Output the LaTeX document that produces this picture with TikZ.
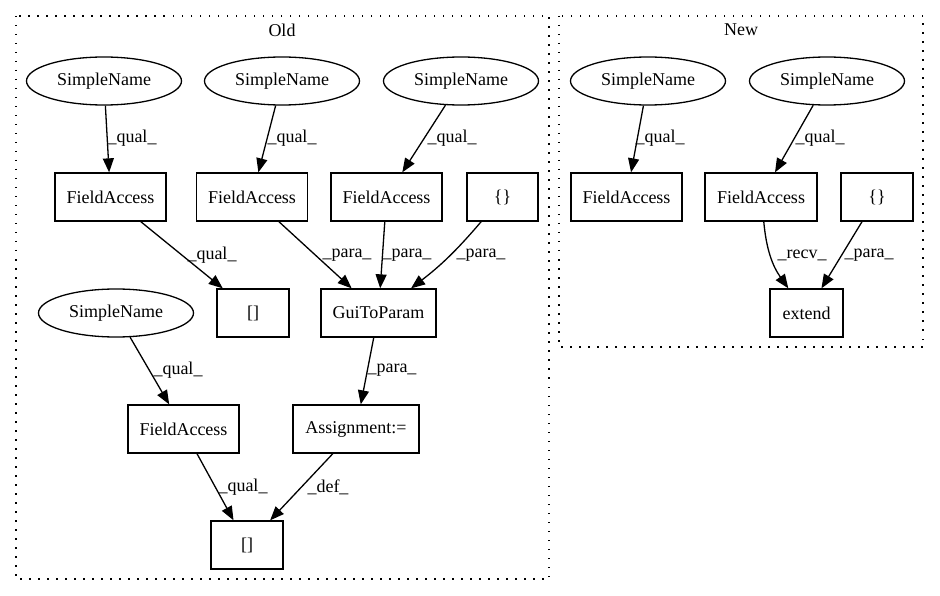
\documentclass[tikz,border=0pt]{standalone}
\usepackage{fontspec}
\setmainfont{Liberation Serif}
\usetikzlibrary{shapes.geometric,arrows.meta}
\begin{document}
\begin{tikzpicture}[x=1pt,y=-1pt,
  every node/.style={font=\fontsize{18}{21}\selectfont},
  box/.style={draw,rectangle,line width=1.3pt,inner sep=0pt,minimum height=48pt},
  ell/.style={draw,ellipse,line width=1.3pt,inner sep=0pt,minimum width=155pt,minimum height=48pt},
  edge/.style={draw,line width=1.3pt,-{Triangle[length=14pt,width=11pt]}},
  lbl/.style={inner sep=0pt},
  cluster/.style={draw,line width=1.3pt,dash pattern=on 1.5pt off 7.5pt}
]
\useasboundingbox (0,0) rectangle (940,596);
% clusters
\draw[cluster] (16,16) rectangle (549,579);
\draw[cluster] (559,16) rectangle (923,347);
\node (oldt) at (282,30) {Old};
\node (newt) at (741,30) {New};
% Old nodes
\node[ell] (sn1) at (104,81) {SimpleName};
\node[ell] (sn2) at (282,81) {SimpleName};
\node[ell] (sn3) at (461,81) {SimpleName};
\node[box,minimum width=111pt] (fa1) at (110.5,197) {FieldAccess};
\node[box,minimum width=111pt] (fa2) at (252,197) {FieldAccess};
\node[box,minimum width=111pt] (fa3) at (386.5,197) {FieldAccess};
\node[box,minimum width=71pt] (br) at (502.5,197) {\{\}};
\node[box,minimum width=72pt] (ix1) at (253,313) {[]};
\node[box,minimum width=115pt] (gui) at (378.5,313) {GuiToParam};
\node[ell] (sn4) at (116,313) {SimpleName};
\node[box,minimum width=111pt] (fa4) at (183.5,429) {FieldAccess};
\node[box,minimum width=126pt] (asg) at (356,429) {Assignment:=};
\node[box,minimum width=72pt] (ix2) at (247,545) {[]};
% New nodes
\node[ell] (nsn1) at (648,81) {SimpleName};
\node[ell] (nsn2) at (827,81) {SimpleName};
\node[box,minimum width=111pt] (nfa1) at (626.5,197) {FieldAccess};
\node[box,minimum width=112pt] (nfa2) at (761,197) {FieldAccess};
\node[box,minimum width=72pt] (nbr) at (877,197) {\{\}};
\node[box,minimum width=73pt] (next) at (806.5,313) {extend};
% Old edges
\draw[edge] (sn1) -- (fa1) node[lbl] at (132,138) {\_qual\_};
\draw[edge] (sn2) -- (fa2) node[lbl] at (292,138) {\_qual\_};
\draw[edge] (sn3) -- (fa3) node[lbl] at (452,138) {\_qual\_};
\draw[edge] (fa1) -- (ix1) node[lbl] at (212,255) {\_qual\_};
\draw[edge] (fa2) -- (gui) node[lbl] at (347,255) {\_para\_};
\draw[edge] (fa3) -- (gui) node[lbl] at (407,255) {\_para\_};
\draw[edge] (br) to[bend left=6] (gui);
\node[lbl] (l7) at (481,255) {\_para\_};
\draw[edge] (sn4) -- (fa4) node[lbl] at (178,370) {\_qual\_};
\draw[edge] (gui) -- (asg) node[lbl] at (392,370) {\_para\_};
\draw[edge] (fa4) -- (ix2) node[lbl] at (243,487) {\_qual\_};
\draw[edge] (asg) -- (ix2) node[lbl] at (328,487) {\_def\_};
% New edges
\draw[edge] (nsn1) -- (nfa1) node[lbl] at (660,138) {\_qual\_};
\draw[edge] (nsn2) -- (nfa2) node[lbl] at (820,138) {\_qual\_};
\draw[edge] (nfa2) to[bend right=15] (next);
\node[lbl] (l14) at (802,255) {\_recv\_};
\draw[edge] (nbr) -- (next) node[lbl] at (869,255) {\_para\_};
\end{tikzpicture}
\end{document}
